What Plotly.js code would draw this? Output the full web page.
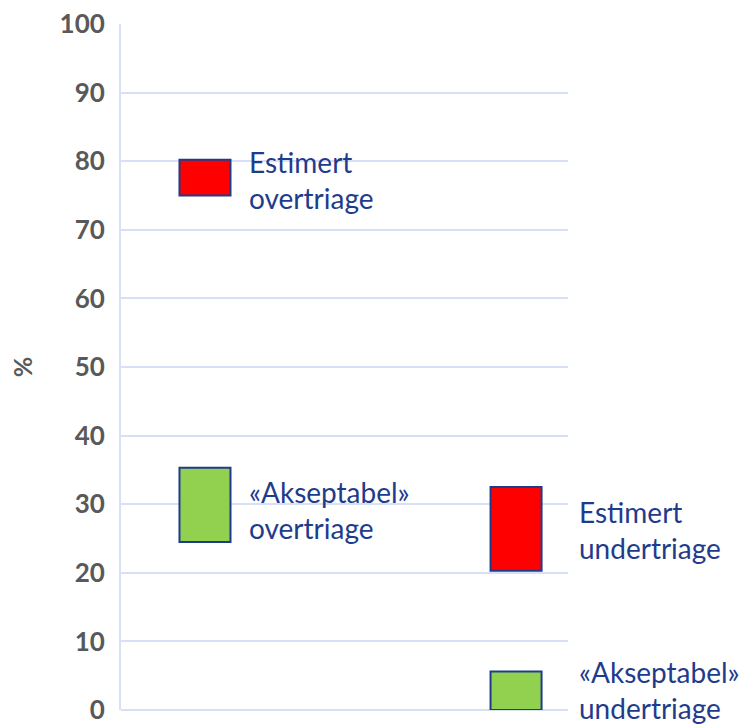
<!DOCTYPE html>
<html>
<head>
<meta charset="utf-8">
<script src="https://cdn.plot.ly/plotly-3.0.1.min.js"></script>
<style>html,body{margin:0;padding:0;background:#fff;}#chart{width:748px;height:724px;}</style>
</head>
<body>
<div id="chart"></div>
<script>
// Data
const groups = [0, 1];                    // 0 = overtriage, 1 = undertriage
const estimertLow  = [75, 20.3];
const estimertHigh = [80.2, 32.5];
const akseptabelLow  = [24.5, 0];
const akseptabelHigh = [35.3, 5.6];
const estimertLabels = ["Estimert<br>overtriage", "Estimert<br>undertriage"];
const akseptabelLabels = ["«Akseptabel»<br>overtriage", "«Akseptabel»<br>undertriage"];
const yTicks = [0,10,20,30,40,50,60,70,80,90,100];

const lineCol = '#1F3C8C';
const textCol = '#1F3C8C';

function rangeTrace(lows, highs, color, name) {
  return {
    type: 'bar', x: groups, base: lows,
    y: highs.map((h, i) => h - lows[i]),
    width: 0.164, name: name,
    marker: {color: color, line: {color: lineCol, width: 2}},
    hoverinfo: 'skip', showlegend: false, cliponaxis: false
  };
}

const traces = [
  rangeTrace(estimertLow, estimertHigh, '#FF0000', 'Estimert'),
  rangeTrace(akseptabelLow, akseptabelHigh, '#92D050', 'Akseptabel')
];

const labelX = [0.282, 1.02];
const annotations = [];
const annFont = {family: 'Lato, "Noto Sans", sans-serif', size: 28, color: textCol};
groups.forEach((g, i) => {
  annotations.push({xref: 'paper', yref: 'y', x: labelX[i], y: i === 0 ? 77.3 : 26.2,
    text: estimertLabels[i], showarrow: false, xanchor: 'left', yanchor: 'middle', align: 'left',
    font: annFont});
  annotations.push({xref: 'paper', yref: 'y', x: labelX[i], y: i === 0 ? 29.2 : 2.9,
    text: akseptabelLabels[i], showarrow: false, xanchor: 'left', yanchor: 'middle', align: 'left',
    font: annFont});
});

const layout = {
  width: 748, height: 724,
  margin: {l: 121, r: 180, t: 24, b: 14},
  paper_bgcolor: '#ffffff', plot_bgcolor: '#ffffff',
  barmode: 'overlay',
  xaxis: {range: [-0.270, 1.167], showticklabels: false, showgrid: false, zeroline: false,
          showline: false, ticks: ''},
  yaxis: {range: [0, 100], tickvals: yTicks, ticktext: yTicks.map(String),
          showgrid: true, gridcolor: '#D6E0F7', gridwidth: 2,
          zeroline: true, zerolinecolor: '#D6E0F7', zerolinewidth: 2,
          showline: true, linecolor: '#D6E0F7', linewidth: 2,
          ticks: '', ticklabelstandoff: 9, ticklabeloverflow: 'allow',
          tickfont: {family: 'Lato, "Liberation Sans", sans-serif', size: 26, color: '#595959', weight: 'bold'},
          title: {text: '%', standoff: 20, font: {family: 'Lato, "Liberation Sans", sans-serif', size: 25, color: '#595959', weight: 'bold'}}},
  annotations: annotations
};

Plotly.newPlot('chart', traces, layout, {displayModeBar: false, staticPlot: true});
</script>
</body>
</html>
